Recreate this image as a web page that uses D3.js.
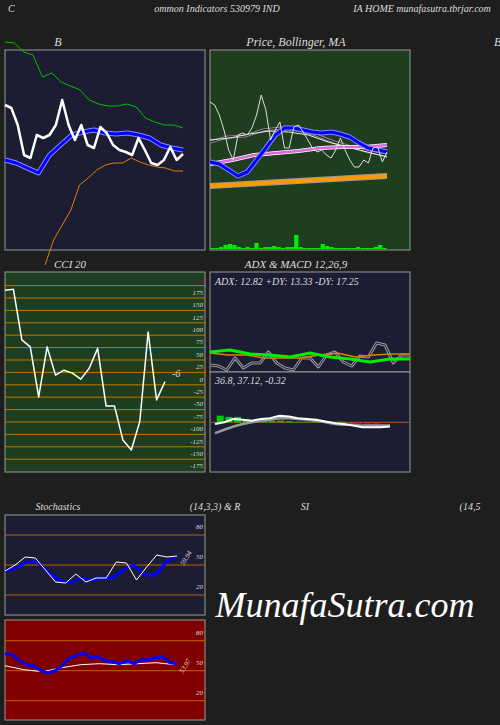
<!DOCTYPE html>
<html><head><meta charset="utf-8">
<script src="https://cdn.jsdelivr.net/npm/d3@7"></script>
<style>body{margin:0;background:#1e1e1e}svg{display:block}text{font-family:"Liberation Serif","DejaVu Serif",serif;font-style:italic;fill:#ddd}</style>
</head><body>
<script>
// Bollinger panel
var bbPrice = [145,142,125,95,92,115,112,115,125,150,125,110,125,105,102,123,117,105,100,98,95,112,100,87,85,90,103,90,96];
var bbMid = [90,87,82,77,95,105,115,118,120,117,116,117,115,112,105,102,100];
var bbUpper = [208,207,198,195,173,177,168,164,160,150,146,144,144,146,143,132,128,125,125,122];
var bbLower = [-15,10,25,40,65,72,80,85,87,87,92,88,85,83,82,79,79];
// Price panel
var price = [148,145,135,120,100,90,115,117,115,122,135,155,140,110,120,128,102,102,123,125,118,110,102,98,100,95,92,100,112,100,90,83,83,90,87,102,103,88,98];
var ma1 = [88,86,80,74,78,90,102,115,122,122,120,118,117,118,116,113,107,102,100,98];
var ma2 = [86,90,95,97,99,102,103,103,105];
var ma3 = [108,113,114,120,122,120,115,108,103,98,95];
var ma4 = [110,112,116,119,118,115,108,103,98,93];
var ma5 = [64,66,68,70,72,74];
var volume = [1,1,2,4,5,4,2,1,2,1,6,1,2,2,3,2,1,2,2,14,2,1,1,1,1,5,3,2,1,1,1,1,1,2,1,1,1,2,4,1];
// CCI
var cci = [178,180,78,64,-37,64,7,17,11,-1,21,61,-55,-55,-124,-144,-87,94,-43,-6];
var cciTicks = [175,150,125,100,75,50,25,0,-25,-50,-75,-100,-125,-150,-175];
// ADX
var adx = [20,22,18,17,15,19,15,13,10,13,13];
var pdi = [19,17,17,14,14,14,17,19,15,17,18,18];
var mdi = [7,6,2,14,4,9,9,20,9,4,2,14,14,5,17,20,10,6,16,15,29,27,9,17,17];
// MACD
var macd = [-2,0,4,3,2,4,5,8,7,5,4,3,1,-1,-2,-4,-6,-6,-6,-5];
var signal = [-13,-9,-5,-2,0,2,3,5,5,4,3,2,0,-2,-3,-3,-4,-4,-4,-4];
// Stochastics
var stochK = [44,50,58,57,45,33,32,41,33,37,37,53,52,35,48,60,58,59];
var stochD = [44,47,53,53,43,35,32,37,35,37,37,45,50,40,40,53,59];
var oscTicks = [80,50,20];
// RSI
var rsiMa = [55,51,49,53,56,57,56,57,58,56];
var rsi = [67,66,60,56,55,50,48,50,55,63,65,68,63,64,60,59,57,60,57,61,61,63,64,58,57];

var svg = d3.select("body").append("svg").attr("width",500).attr("height",725);

function txt(x,y,s,size,anchor){
  return svg.append("text").attr("x",x).attr("y",y).attr("font-size",size||11)
    .attr("text-anchor",anchor||"start").text(s);
}
function panel(x,y,w,h,fill){
  svg.append("rect").attr("x",x).attr("y",y).attr("width",w).attr("height",h)
    .attr("fill",fill).attr("stroke","#999").attr("stroke-width",1);
}
function line(data,x0,x1,yScale,color,width){
  var x = d3.scaleLinear().domain([0,data.length-1]).range([x0,x1]);
  svg.append("path").datum(data).attr("fill","none").attr("stroke",color)
    .attr("stroke-width",width).attr("stroke-linejoin","round")
    .attr("d",d3.line().x(function(d,i){return x(i);}).y(function(d){return yScale(d);}));
}

// header
txt(8,12,"C",10);
txt(217,12,"ommon  Indicators 530979 IND",10,"middle");
txt(422,12,"IA HOME munafasutra.tbrjar.com",10,"middle");

// Bollinger
txt(58,46,"B",12,"middle");
txt(494,46,"B",12,"start");
panel(5,50,200,200,"#1c1c33");
var yb = d3.scaleLinear().domain([0,200]).range([250,50]);
line(bbUpper,5,183,yb,"#00c000",1);
line(bbLower,45,183,yb,"#e08000",1);
line(bbMid,5,183,yb,"#8888ff",5);
line(bbMid,5,183,yb,"#0000ff",3);
line(bbPrice,5,183,yb,"#ffffff",2.5);

// Price
txt(296,46,"Price,  Bollinger,  MA",12,"middle");
panel(210,50,200,200,"#1f3d1f");
line(ma5,210,387,yb,"#999",6);
line(ma5,210,387,yb,"#ff9900",4);
line(ma3,210,387,yb,"#888",3);
line(ma3,210,387,yb,"#111",1);
line(ma4,210,387,yb,"#eee",1);
line(ma2,210,387,yb,"#ffffff",4);
line(ma2,210,387,yb,"#dd66dd",2.5);
line(ma1,210,387,yb,"#8888ff",5);
line(ma1,210,387,yb,"#0000ff",3);
line(price,210,387,yb,"#dddddd",1);
var xv = d3.scaleBand().domain(d3.range(volume.length)).range([210,387]).padding(0.05);
var yv = d3.scaleLinear().domain([0,14]).range([249,235]);
svg.selectAll(".vol").data(volume).enter().append("rect").attr("fill","#00ee00")
  .attr("x",function(d,i){return xv(i);}).attr("width",xv.bandwidth())
  .attr("y",function(d){return yv(d);}).attr("height",function(d){return 249-yv(d);});

// CCI
txt(70,268,"CCI 20",11,"middle");
panel(5,272,200,200,"#1f3d1f");
var yc = d3.scaleLinear().domain([0,100]).range([378.6,329]);
d3.range(15).forEach(function(k){
  var v = 187.5 - 25*k;
  svg.append("line").attr("x1",5).attr("x2",205).attr("y1",yc(v)).attr("y2",yc(v))
    .attr("stroke","#c07800").attr("stroke-width",1);
});
cciTicks.forEach(function(t){ txt(203,yc(t)+3,t,7,"end"); });
line(cci,5,165,yc,"#ffffff",1.5);
txt(172,377,"-6",10);

// ADX
txt(296,268,"ADX   & MACD 12,26,9",11,"middle");
panel(210,272,200,100,"#1c1c33");
txt(215,285,"ADX: 12.82   +DY: 13.33 -DY: 17.25",10);
var ya = d3.scaleLinear().domain([0,50]).range([372,322]);
line(mdi,210,410,ya,"#999",3);
line(mdi,210,410,ya,"#1c1c33",1);
line(pdi,210,410,ya,"#e08000",1.5);
line(adx,210,410,ya,"#00ee00",3);

// MACD
panel(210,372,200,100,"#1c1c33");
txt(215,384,"36.8,  37.12,  -0.32",10);
var ym = d3.scaleLinear().domain([0,10]).range([422.3,414]);
svg.append("line").attr("x1",210).attr("x2",410).attr("y1",ym(0)).attr("y2",ym(0)).attr("stroke","#a06020");
var hist = macd.map(function(d,i){return d-signal[i];});
var yh = d3.scaleLinear().domain([0,10]).range([0,6]);
var xh = d3.scaleBand().domain(d3.range(hist.length)).range([215,390]).padding(0.2);
svg.selectAll(".h").data(hist).enter().append("rect")
  .attr("fill",function(d){return d>=0?"#00cc00":"#ff2020";})
  .attr("x",function(d,i){return xh(i);}).attr("width",xh.bandwidth())
  .attr("y",function(d){return d>=0?ym(0)-yh(d):ym(0);})
  .attr("height",function(d){return yh(Math.abs(d));});
line(signal,215,390,ym,"#999",2.5);
line(macd,215,390,ym,"#ffffff",2);

// Stochastics
txt(58,510,"Stochastics",10,"middle");
txt(215,510,"(14,3,3) & R",10,"middle");
txt(305,510,"SI",10,"middle");
txt(470,510,"(14,5",10,"middle");
panel(5,515,200,100,"#1c1c33");
var ys = d3.scaleLinear().domain([20,80]).range([595,535]);
oscTicks.forEach(function(t){
  svg.append("line").attr("x1",5).attr("x2",205).attr("y1",ys(t)).attr("y2",ys(t)).attr("stroke","#c06000");
  txt(203,ys(t)-6,t,7,"end");
});
line(stochD,5,177,ys,"#0000ff",3);
line(stochK,5,177,ys,"#ffffff",1);
txt(184,566,"59.94",7).attr("transform","rotate(-60,184,566)");

// RSI
panel(5,620,200,100,"#800000");
var yr = d3.scaleLinear().domain([20,80]).range([700.7,640.7]);
oscTicks.forEach(function(t){
  svg.append("line").attr("x1",5).attr("x2",205).attr("y1",yr(t)).attr("y2",yr(t)).attr("stroke","#c06000");
  txt(203,yr(t)-6,t,7,"end");
});
line(rsiMa,5,175,yr,"#ffffff",1);
line(rsi,5,177,yr,"#0000ff",3);
txt(183,674,"53.97",7).attr("transform","rotate(-60,183,674)");

// watermark
svg.append("text").attr("x",345).attr("y",617).attr("text-anchor","middle")
  .attr("font-size",36).style("fill","#ffffff").text("MunafaSutra.com");
</script>
</body></html>
